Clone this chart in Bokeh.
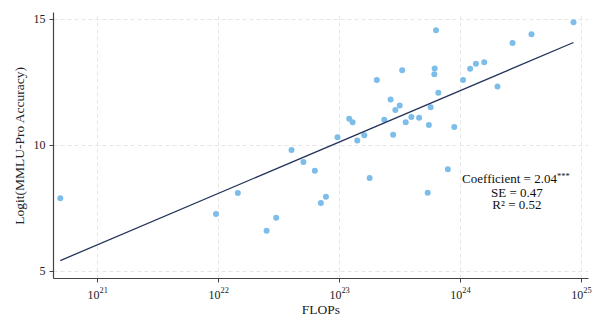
from bokeh.plotting import figure
from bokeh.models import Range1d, Label, FixedTicker, ColumnDataSource
from bokeh.embed import file_html
from bokeh.resources import INLINE
import numpy as np

# Data
flops = [4.9e20, 9.5e21, 1.44e22, 2.49e22, 2.99e22, 4.0e22, 5.02e22, 6.24e22,
         7.0e22, 7.71e22, 9.6e22, 1.2e23, 1.28e23, 1.4e23, 1.6e23, 1.77e23,
         2.03e23, 2.34e23, 2.64e23, 2.77e23, 2.89e23, 3.14e23, 3.29e23, 3.52e23,
         3.92e23, 4.54e23, 5.35e23, 5.47e23, 5.66e23, 6.07e23, 6.11e23, 6.27e23,
         6.55e23, 7.85e23, 8.87e23, 1.05e24, 1.2e24, 1.34e24, 1.57e24, 2.02e24,
         2.69e24, 3.86e24, 8.59e24]
logit_acc = [7.89, 7.27, 8.10, 6.60, 7.12, 9.81, 9.33, 8.98,
             7.70, 7.95, 10.31, 11.05, 10.91, 10.18, 10.39, 8.70,
             12.59, 11.01, 11.81, 10.41, 11.40, 11.57, 12.97, 10.91,
             11.12, 11.09, 8.11, 10.80, 11.50, 12.81, 13.04, 14.56,
             12.08, 9.04, 10.72, 12.59, 13.03, 13.23, 13.29, 12.33,
             14.06, 14.40, 14.88]
fit_slope = 2.04          # per decade of FLOPs
fit_at_1e23 = 10.13       # fitted value at 1e23 FLOPs
x_ticks = [1e21, 1e22, 1e23, 1e24, 1e25]
y_ticks = [5, 10, 15]
annot_lines = ["Coefficient = 2.04", "SE = 0.47", "R\u00b2 = 0.52"]
annot_stars = "***"

FONT = "Liberation Serif"

p = figure(width=600, height=327, x_axis_type="log", output_backend="svg",
           toolbar_location=None, min_border_left=53, min_border_right=12,
           min_border_top=12, min_border_bottom=49)
p.x_range = Range1d(10 ** 20.634, 10 ** 25.058)
p.y_range = Range1d(4.706, 15.266)
p.outline_line_color = None
p.background_fill_color = "white"

# grid
for g in (p.xgrid, p.ygrid):
    g.grid_line_color = "#e6e6e6"
    g.grid_line_dash = "4 3"
    g.grid_line_width = 1
p.xaxis.ticker = FixedTicker(ticks=x_ticks)
p.yaxis.ticker = FixedTicker(ticks=y_ticks)
p.xgrid.ticker = FixedTicker(ticks=x_ticks)
p.ygrid.ticker = FixedTicker(ticks=y_ticks)

for ax in (p.xaxis, p.yaxis):
    ax.axis_line_color = "#444444"
    ax.axis_line_width = 1.2
    ax.major_tick_line_color = "#444444"
    ax.major_tick_out = 4
    ax.major_tick_in = 0
    ax.minor_tick_line_color = None
    ax.major_label_text_font = FONT
    ax.major_label_text_font_size = "12px"
    ax.major_label_text_color = "#222222"
    ax.axis_label_text_font = FONT
    ax.axis_label_text_font_size = "13.5px"
    ax.axis_label_text_font_style = "normal"
    ax.axis_label_text_color = "#222222"

p.xaxis.axis_label = "FLOPs"
p.yaxis.axis_label = "Logit(MMLU-Pro Accuracy)"
p.xaxis.major_label_standoff = 4
p.yaxis.major_label_standoff = 4
p.xaxis.axis_label_standoff = 0
p.yaxis.axis_label_standoff = 4
p.yaxis.major_label_orientation = 0

src = ColumnDataSource(dict(x=flops, y=logit_acc))
p.scatter("x", "y", source=src, size=6, fill_color="#7dbde9", line_color=None)

# fitted line
fx = np.array([min(flops), max(flops)])
fy = fit_at_1e23 + fit_slope * (np.log10(fx) - 23)
p.line(fx, fy, line_color="#26345a", line_width=1.3)

# annotation
ax_c = 10 ** 24.466
ys = [8.66, 8.12, 7.64]
for t, yy in zip(annot_lines, ys):
    first = t == annot_lines[0]
    p.add_layout(Label(x=10 ** 24.797 if first else ax_c, y=yy,
                       text=t, text_font=FONT, text_font_size="13px",
                       text_color="#111111",
                       text_align="right" if first else "center",
                       text_baseline="middle"))
p.add_layout(Label(x=10 ** 24.797, y=8.66 + 0.12, text=annot_stars, text_font=FONT,
                   text_font_size="8.5px", text_color="#111111",
                   text_align="left", text_baseline="middle"))

open("out.html", "w").write(file_html(p, INLINE))
